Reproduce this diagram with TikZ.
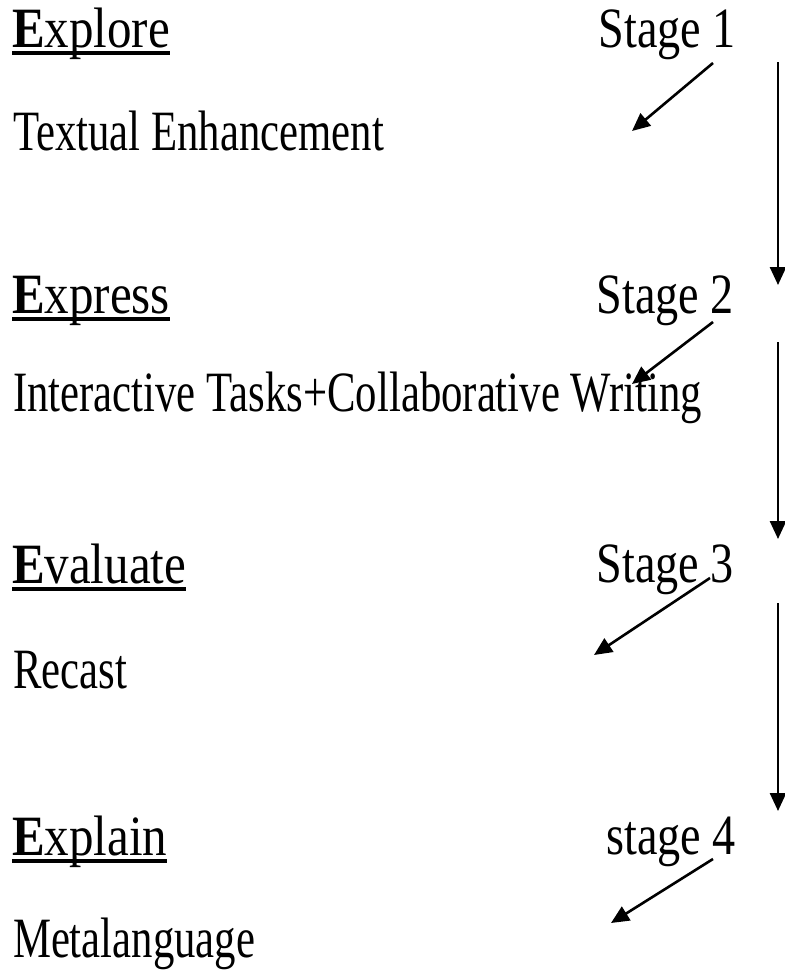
\documentclass[tikz,border=0pt]{standalone}
\usepackage{fontspec}
\setmainfont{Liberation Serif}[FakeStretch=0.75]
\newfontfamily\headfont{Liberation Serif}[FakeStretch=0.86]
\newfontfamily\stagefont{Liberation Serif}[FakeStretch=0.81]
\usetikzlibrary{arrows.meta}
\tikzset{
  txt/.style={inner sep=0pt, outer sep=0pt, font=\fontsize{28.5pt}{33pt}\selectfont},
  head/.style={txt, anchor=base west, font=\fontsize{28.5pt}{33pt}\headfont},
  item/.style={txt, anchor=base west},
  stg/.style={txt, anchor=base east, font=\fontsize{28.5pt}{33pt}\stagefont},
  ul/.style={line width=1.7pt},
  arr/.style={line width=1.3pt, -{Triangle[length=9pt,width=8pt]}}
}
\begin{document}
\begin{tikzpicture}[x=0.5pt, y=-0.5pt]
\useasboundingbox (0,0) rectangle (784,970);
% headings
\node[head] (h1) at (12,47) {\textbf{E}xplore};
\node[head] (h2) at (12,313) {\textbf{E}xpress};
\node[head] (h3) at (12,583) {\textbf{E}valuate};
\node[head] (h4) at (12,855) {\textbf{E}xplain};
\foreach \n in {h1,h2,h3,h4}
  \draw[ul] ([yshift=-3pt]\n.base west) -- ([yshift=-3pt]\n.base east);
% items
\node[item] (i1) at (13,150) {Textual Enhancement};
\node[item] (i2) at (13,411) {Interactive Tasks+Collaborative Writing};
\node[item] (i3) at (13,688) {Recast};
\node[item] (i4) at (13,957) {Metalanguage};
% stages
\node[stg] (s1) at (736,47) {Stage 1};
\node[stg] (s2) at (734,313) {Stage 2};
\node[stg] (s3) at (734,582) {Stage 3};
\node[stg] (s4) at (736,854) {stage 4};
% diagonal arrows
\coordinate (d1a) at (713,63);  \coordinate (d1b) at (632,131);
\coordinate (d2a) at (713,322); \coordinate (d2b) at (632,384);
\coordinate (d3a) at (710,578); \coordinate (d3b) at (594,655);
\coordinate (d4a) at (713,859); \coordinate (d4b) at (611,923);
\draw[arr] (d1a) -- (d1b);
\draw[arr] (d2a) -- (d2b);
\draw[arr] (d3a) -- (d3b);
\draw[arr] (d4a) -- (d4b);
% vertical arrows
\coordinate (v1a) at (778,62);  \coordinate (v1b) at (778,285);
\coordinate (v2a) at (778,342); \coordinate (v2b) at (778,539);
\coordinate (v3a) at (778,603); \coordinate (v3b) at (778,811);
\draw[arr] (v1a) -- (v1b);
\draw[arr] (v2a) -- (v2b);
\draw[arr] (v3a) -- (v3b);
\end{tikzpicture}
\end{document}
